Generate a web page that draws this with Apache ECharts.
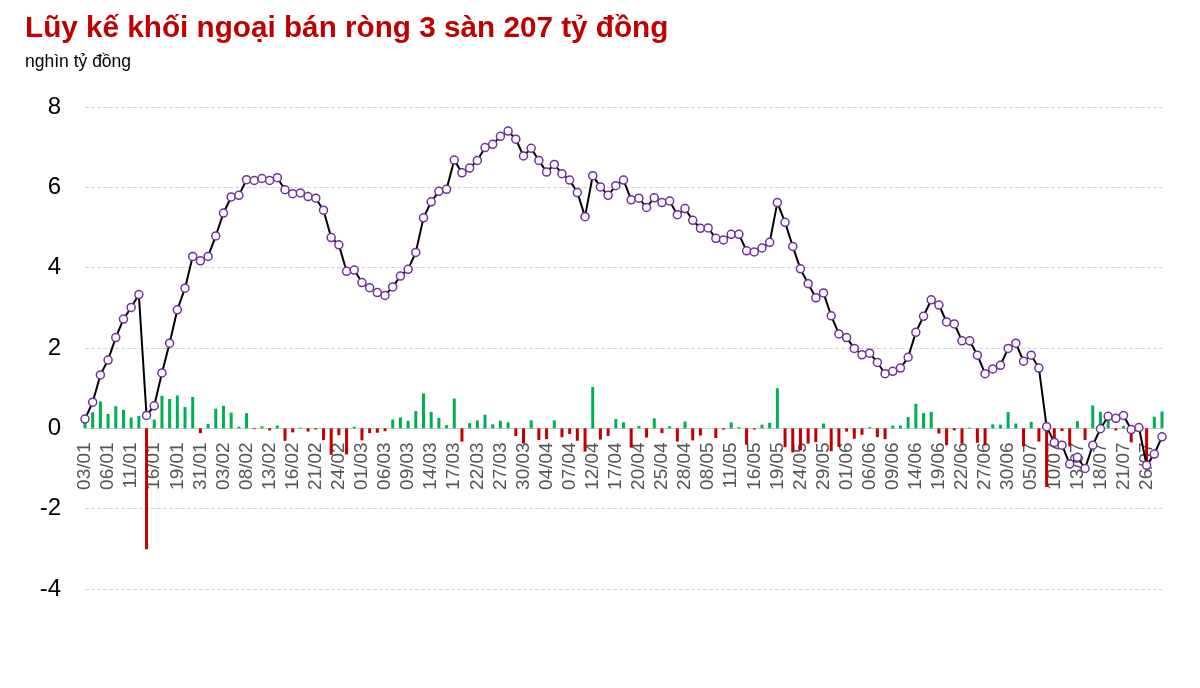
<!DOCTYPE html>
<html>
<head>
<meta charset="UTF-8">
<title>Lũy kế khối ngoại</title>
<script src="https://cdn.jsdelivr.net/npm/echarts@6/dist/echarts.min.js"></script>
<style>
  html, body { margin: 0; padding: 0; background: #fff; }
  #chart { width: 1200px; height: 688px; }
</style>
</head>
<body>
<div id="chart"></div>
<script type="text/javascript">
// ngày giao dịch
var dates = [
  '03/01','04/01','05/01','06/01','09/01','10/01','11/01','12/01','13/01','16/01','17/01','18/01','19/01','27/01','30/01','31/01',
  '01/02','02/02','03/02','06/02','07/02','08/02','09/02','10/02','13/02','14/02','15/02','16/02','17/02','20/02','21/02','22/02','23/02','24/02','27/02','28/02',
  '01/03','02/03','03/03','06/03','07/03','08/03','09/03','10/03','13/03','14/03','15/03','16/03','17/03','20/03','21/03','22/03','23/03','24/03','27/03','28/03','29/03','30/03','31/03',
  '03/04','04/04','05/04','06/04','07/04','10/04','11/04','12/04','13/04','14/04','17/04','18/04','19/04','20/04','21/04','24/04','25/04','26/04','27/04','28/04',
  '04/05','05/05','08/05','09/05','10/05','11/05','12/05','15/05','16/05','17/05','18/05','19/05','22/05','23/05','24/05','25/05','26/05','29/05','30/05','31/05',
  '01/06','02/06','05/06','06/06','07/06','08/06','09/06','12/06','13/06','14/06','15/06','16/06','19/06','20/06','21/06','22/06','23/06','26/06','27/06','28/06','29/06','30/06',
  '03/07','04/07','05/07','06/07','07/07','10/07','11/07','12/07','13/07','14/07','17/07','18/07','19/07','20/07','21/07','24/07','25/07','26/07','27/07','28/07'
];

// mua/bán ròng từng phiên (nghìn tỷ đồng)
var netFlow = [
  0.23, 0.40, 0.67, 0.36, 0.55, 0.46, 0.27, 0.31, -3.01, 0.22,
  0.81, 0.73, 0.82, 0.53, 0.78, -0.12, 0.11, 0.49, 0.56, 0.39,
  0.04, 0.38, -0.02, 0.05, -0.05, 0.07, -0.31, -0.10, 0.02, -0.08,
  -0.03, -0.29, -0.66, -0.17, -0.65, 0.04, -0.30, -0.12, -0.11, -0.07,
  0.22, 0.27, 0.19, 0.43, 0.87, 0.41, 0.26, 0.08, 0.74, -0.33,
  0.13, 0.20, 0.34, 0.10, 0.19, 0.15, -0.19, -0.38, 0.20, -0.29,
  -0.27, 0.20, -0.22, -0.14, -0.31, -0.58, 1.03, -0.28, -0.19, 0.23,
  0.15, -0.48, 0.06, -0.23, 0.25, -0.12, 0.05, -0.33, 0.17, -0.30,
  -0.18, 0.00, -0.24, -0.03, 0.15, 0.03, -0.41, -0.03, 0.09, 0.14,
  1.00, -0.47, -0.60, -0.55, -0.38, -0.34, 0.12, -0.57, -0.46, -0.08,
  -0.26, -0.16, 0.03, -0.22, -0.27, 0.07, 0.07, 0.28, 0.61, 0.38,
  0.41, -0.13, -0.42, -0.05, -0.38, 0.02, -0.36, -0.42, 0.10, 0.09,
  0.41, 0.12, -0.45, 0.16, -0.33, -1.46, -0.37, -0.07, -0.45, 0.18,
  -0.29, 0.57, 0.41, 0.25, -0.05, 0.06, -0.35, 0.03, -0.93, 0.29,
  0.42
];

// lũy kế
var cumulative = [
  0.23, 0.65, 1.33, 1.70, 2.26, 2.72, 3.01, 3.33, 0.32, 0.56,
  1.38, 2.12, 2.95, 3.49, 4.28, 4.17, 4.28, 4.79, 5.36, 5.76,
  5.80, 6.19, 6.17, 6.22, 6.17, 6.24, 5.94, 5.84, 5.86, 5.77,
  5.73, 5.43, 4.75, 4.57, 3.91, 3.94, 3.63, 3.50, 3.38, 3.31,
  3.52, 3.79, 3.96, 4.38, 5.24, 5.64, 5.90, 5.95, 6.68, 6.36,
  6.48, 6.67, 6.99, 7.07, 7.27, 7.40, 7.20, 6.78, 6.97, 6.67,
  6.38, 6.57, 6.34, 6.18, 5.87, 5.27, 6.29, 6.01, 5.80, 6.04,
  6.18, 5.69, 5.73, 5.50, 5.74, 5.62, 5.66, 5.32, 5.47, 5.18,
  4.98, 4.99, 4.73, 4.69, 4.83, 4.83, 4.42, 4.39, 4.49, 4.63,
  5.62, 5.13, 4.53, 3.97, 3.60, 3.25, 3.37, 2.80, 2.35, 2.26,
  1.99, 1.83, 1.87, 1.64, 1.36, 1.42, 1.50, 1.77, 2.39, 2.79,
  3.20, 3.07, 2.65, 2.60, 2.18, 2.18, 1.82, 1.36, 1.48, 1.57,
  1.99, 2.12, 1.67, 1.82, 1.50, 0.04, -0.35, -0.42, -0.89, -0.72,
  -1.00, -0.42, -0.01, 0.30, 0.25, 0.32, -0.03, 0.02, -0.92, -0.64,
  -0.21
];

var yMin = -4, yMax = 8, yStep = 2;

var FONT = 'Arial, "Liberation Sans", sans-serif';
var myChart = echarts.init(document.getElementById('chart'));

// grid: top 107, bottom 589 -> trục 0 nằm ở 428
var gridTop = 107, gridBottom = 99, plotH = 688 - gridTop - gridBottom;
var zeroOffset = -plotH * (0 - yMin) / (yMax - yMin);

var option = {
  animation: false,
  backgroundColor: '#fff',
  title: [{
    text: 'Lũy kế khối ngoại bán ròng 3 sàn 207 tỷ đồng',
    left: 25,
    top: 14,
    padding: 0,
    textStyle: { color: '#c00000', fontSize: 29.7, fontWeight: 'bold', fontFamily: FONT }
  }, {
    text: 'nghìn tỷ đồng',
    left: 25,
    top: 53,
    padding: 0,
    textStyle: { color: '#000', fontSize: 17.5, fontWeight: 'normal', fontFamily: FONT }
  }],
  grid: { left: 85, right: 38, top: gridTop, bottom: gridBottom, containLabel: false },
  xAxis: {
    type: 'category',
    data: dates,
    boundaryGap: false,
    offset: zeroOffset,
    axisLine: { onZero: false, lineStyle: { color: '#cfcfcf', width: 1 } },
    axisTick: { show: false },
    axisLabel: {
      interval: 2,
      rotate: 90,
      margin: 14,
      color: '#555',
      fontSize: 19,
      fontFamily: FONT
    },
    splitLine: { show: false }
  },
  yAxis: {
    type: 'value',
    min: yMin,
    max: yMax,
    interval: yStep,
    axisLine: { show: false },
    axisTick: { show: false },
    axisLabel: { color: '#000', fontSize: 24, margin: 24, fontFamily: FONT },
    splitLine: { lineStyle: { color: '#d5d5d5', type: 'dashed', width: 1 } }
  },
  series: [{
    name: 'Mua/bán ròng',
    type: 'bar',
    data: netFlow,
    barWidth: 3,
    itemStyle: {
      color: function (p) { return p.value >= 0 ? '#00b050' : '#c00000'; }
    },
    z: 2
  }, {
    name: 'Lũy kế',
    type: 'line',
    data: cumulative,
    symbol: 'circle',
    symbolSize: 8,
    showAllSymbol: true,
    lineStyle: { color: '#000', width: 2 },
    itemStyle: { color: '#fff', borderColor: '#7030a0', borderWidth: 1.5 },
    z: 3
  }]
};
myChart.setOption(option);
</script>
</body>
</html>
